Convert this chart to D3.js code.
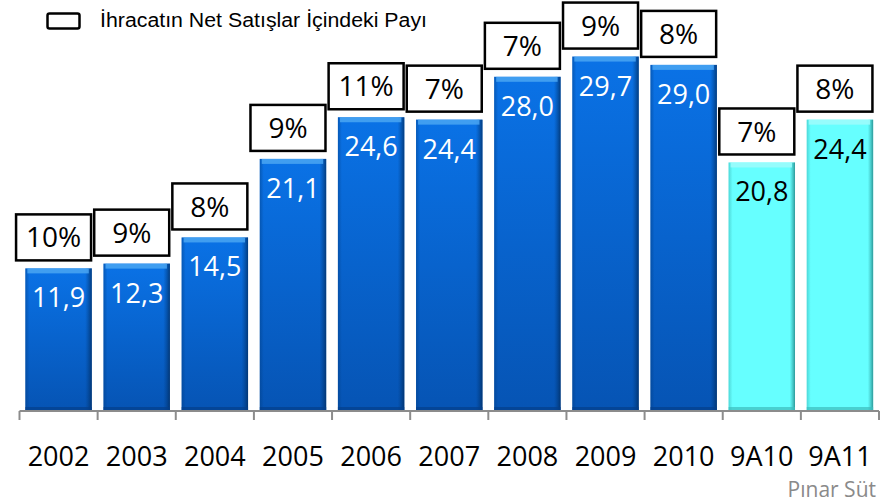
<!DOCTYPE html>
<html lang="tr">
<head>
<meta charset="UTF-8">
<title>İhracatın Net Satışlar İçindeki Payı</title>
<script src="https://d3js.org/d3.v7.min.js"></script>
<style>
  body { margin: 0; background: #fff; }
  text { font-family: "Open Sans", "Noto Sans", sans-serif; }
</style>
</head>
<body>
<div id="chart"></div>
<script>
    // data
    const categories = ["2002", "2003", "2004", "2005", "2006", "2007", "2008", "2009", "2010", "9A10", "9A11"];
    const sales = [11.9, 12.3, 14.5, 21.1, 24.6, 24.4, 28.0, 29.7, 29.0, 20.8, 24.4];
    const exportShare = ["10%", "9%", "8%", "9%", "11%", "7%", "7%", "9%", "8%", "7%", "8%"];
    const partial = ["9A10", "9A11"];   // nine-month figures, drawn in cyan

    const width = 888, height = 503;

    const svg = d3.select("#chart").append("svg")
        .attr("width", width)
        .attr("height", height);

    const defs = svg.append("defs");

    const blue = defs.append("linearGradient").attr("id", "blue")
        .attr("x1", 0).attr("y1", 0).attr("x2", 0).attr("y2", 1);
    blue.append("stop").attr("offset", 0).attr("stop-color", "#0a72e6");
    blue.append("stop").attr("offset", 1).attr("stop-color", "#0654b4");

    const blueSide = defs.append("linearGradient").attr("id", "blueSide")
        .attr("x1", 0).attr("y1", 0).attr("x2", 1).attr("y2", 0);
    blueSide.append("stop").attr("offset", 0).attr("stop-color", "#003c80").attr("stop-opacity", 0.45);
    blueSide.append("stop").attr("offset", 0.06).attr("stop-color", "#003c80").attr("stop-opacity", 0);
    blueSide.append("stop").attr("offset", 0.9).attr("stop-color", "#003c80").attr("stop-opacity", 0);
    blueSide.append("stop").attr("offset", 1).attr("stop-color", "#002a5c").attr("stop-opacity", 0.75);

    const cyanSide = defs.append("linearGradient").attr("id", "cyanSide")
        .attr("x1", 0).attr("y1", 0).attr("x2", 1).attr("y2", 0);
    cyanSide.append("stop").attr("offset", 0).attr("stop-color", "#2a9c9c").attr("stop-opacity", 0.4);
    cyanSide.append("stop").attr("offset", 0.06).attr("stop-color", "#2a9c9c").attr("stop-opacity", 0);
    cyanSide.append("stop").attr("offset", 0.92).attr("stop-color", "#2a9c9c").attr("stop-opacity", 0);
    cyanSide.append("stop").attr("offset", 1).attr("stop-color", "#1f8080").attr("stop-opacity", 0.8);

    const x = d3.scaleBand()
        .domain(categories)
        .range([19.5, 879])
        .paddingInner(0.15)
        .paddingOuter(0.075);

    const y = d3.scaleLinear()
        .domain([0, 30])
        .range([410, 53]);

    const isPartial = c => partial.includes(c);

    // axis
    const baseY = 411;
    const half = x.step() * x.paddingInner() / 2;
    const tickXs = categories.map(c => x(c) - half).concat([x(categories[categories.length - 1]) + x.bandwidth() + half]);

    svg.append("line")
        .attr("x1", tickXs[0]).attr("x2", tickXs[tickXs.length - 1])
        .attr("y1", baseY).attr("y2", baseY)
        .attr("stroke", "#8c8c8c").attr("stroke-width", 2);

    svg.selectAll(".tick").data(tickXs).enter().append("line")
        .attr("x1", d => d).attr("x2", d => d)
        .attr("y1", baseY).attr("y2", baseY + 9)
        .attr("stroke", "#8c8c8c").attr("stroke-width", 2);

    // bars
    const bar = svg.selectAll(".bar")
        .data(categories.map((c, i) => ({ cat: c, v: sales[i], pct: exportShare[i] })))
        .enter().append("g").attr("class", "bar");

    bar.append("rect")
        .attr("x", d => x(d.cat))
        .attr("y", d => y(d.v))
        .attr("width", x.bandwidth())
        .attr("height", d => y(0) - y(d.v))
        .attr("fill", d => isPartial(d.cat) ? "#66ffff" : "url(#blue)");

    bar.append("rect")
        .attr("x", d => x(d.cat))
        .attr("y", d => y(d.v))
        .attr("width", x.bandwidth())
        .attr("height", d => y(0) - y(d.v))
        .attr("fill", d => isPartial(d.cat) ? "url(#cyanSide)" : "url(#blueSide)");

    // lighter bevel on top
    bar.append("rect")
        .attr("x", d => x(d.cat) + 2)
        .attr("y", d => y(d.v))
        .attr("width", x.bandwidth() - 5)
        .attr("height", 5)
        .attr("fill", d => isPartial(d.cat) ? "#9ffcfc" : "#4aa6f2")
        .attr("opacity", 0.85);

    // darker bottom edge
    bar.append("rect")
        .attr("x", d => x(d.cat))
        .attr("y", y(0) - 3)
        .attr("width", x.bandwidth())
        .attr("height", 3)
        .attr("fill", d => isPartial(d.cat) ? "#3cbcbc" : "#043f8a")
        .attr("opacity", 0.7);

    // value labels
    bar.append("text")
        .attr("x", d => x(d.cat) + x.bandwidth() / 2)
        .attr("y", d => y(d.v) + 39)
        .attr("text-anchor", "middle")
        .attr("font-size", 27)
        .attr("fill", d => isPartial(d.cat) ? "#000" : "#fff")
        .text(d => d.v.toFixed(1).replace(".", ","));

    // export share boxes
    const boxW = 75, boxH = 46, gap = 8;
    const box = bar.append("g")
        .attr("transform", d => `translate(${x(d.cat) + x.bandwidth() / 2 - 5},${y(d.v) - gap - boxH / 2})`);

    box.append("rect")
        .attr("x", -boxW / 2).attr("y", -boxH / 2)
        .attr("width", boxW).attr("height", boxH)
        .attr("fill", "#fff")
        .attr("stroke", "#000").attr("stroke-width", 2.5);

    box.append("text")
        .attr("text-anchor", "middle")
        .attr("dy", "0.36em")
        .attr("font-size", 28)
        .attr("fill", "#000")
        .text(d => d.pct);

    // category labels
    svg.selectAll(".cat").data(categories).enter().append("text")
        .attr("x", d => x(d) + x.bandwidth() / 2)
        .attr("y", 466)
        .attr("text-anchor", "middle")
        .attr("font-size", 27)
        .attr("fill", "#000")
        .text(d => d);

    // legend
    svg.append("rect")
        .attr("x", 47.5).attr("y", 13.5)
        .attr("width", 32).attr("height", 15)
        .attr("rx", 2)
        .attr("fill", "#fff")
        .attr("stroke", "#000").attr("stroke-width", 2.5);

    svg.append("text")
        .attr("x", 100).attr("y", 27)
        .attr("font-size", 20)
        .attr("textLength", 327)
        .attr("lengthAdjust", "spacingAndGlyphs")
        .style("font-family", "'Liberation Sans', Arial, sans-serif")
        .attr("fill", "#000")
        .text("İhracatın Net Satışlar İçindeki Payı");

    // source
    svg.append("text")
        .attr("x", 876).attr("y", 497)
        .attr("text-anchor", "end")
        .attr("font-size", 21)
        .attr("fill", "#8a8a8a")
        .text("Pınar Süt");
</script>
</body>
</html>
